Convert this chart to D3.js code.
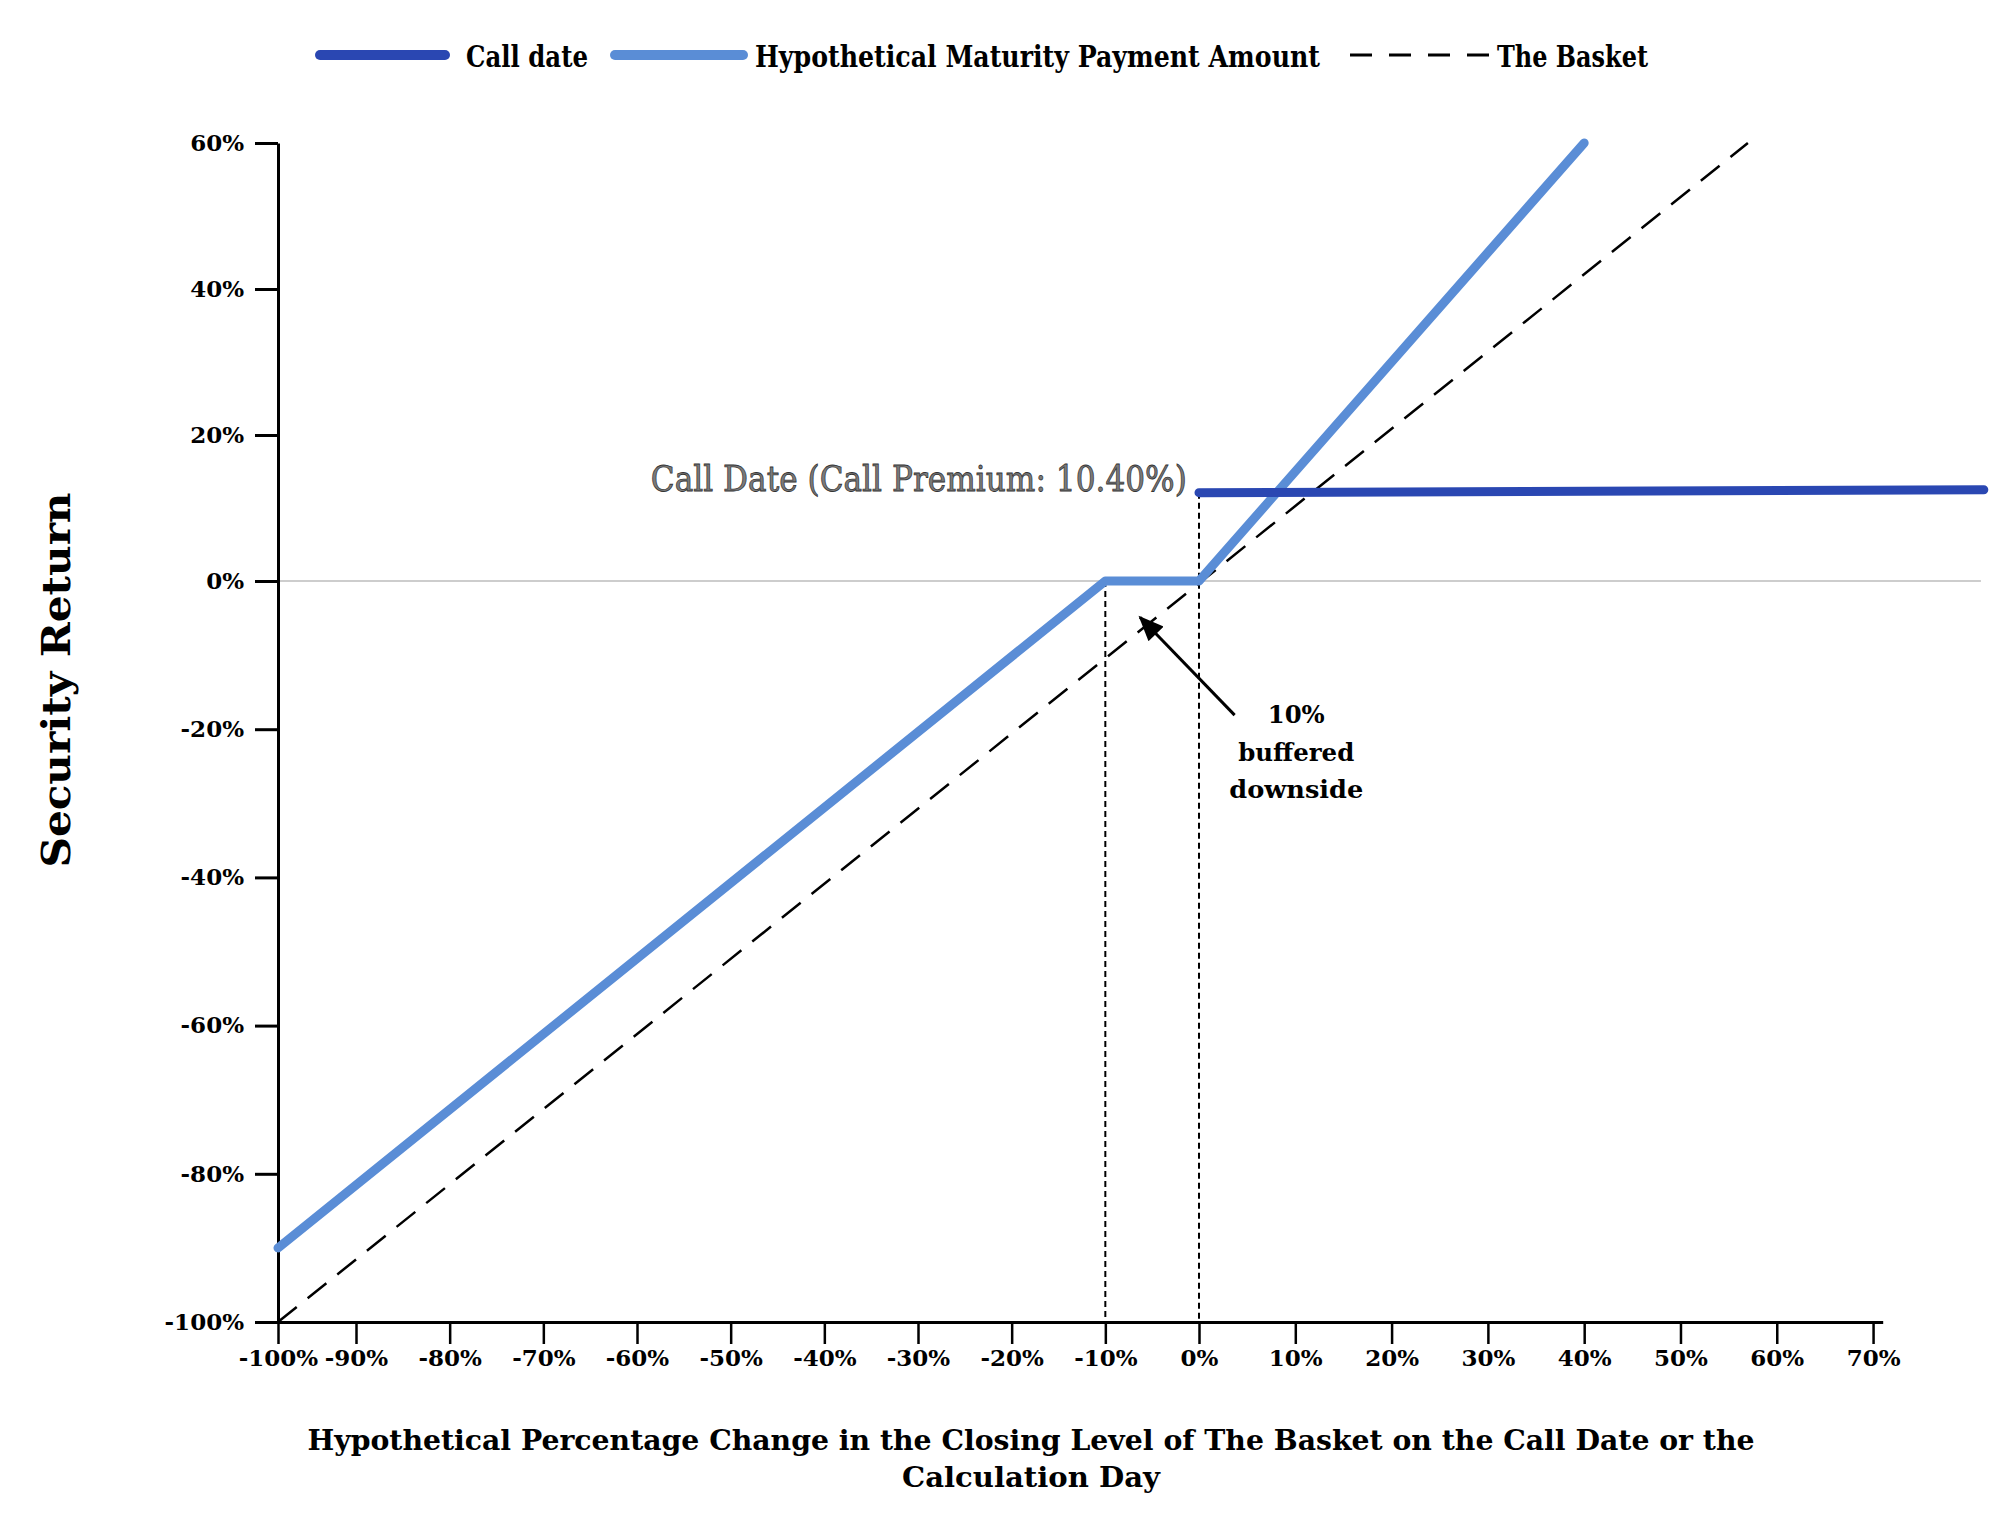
<!DOCTYPE html>
<html>
<head>
<meta charset="utf-8">
<script src="https://cdn.jsdelivr.net/npm/d3@7"></script>
<style>
  body { margin: 0; background: #fff; }
  svg { display: block; }
  text { font-family: "DejaVu Serif", Georgia, serif; }
</style>
</head>
<body>
<div id="chart"></div>
<script>
// values (percent)
var xTicks = [-100, -90, -80, -70, -60, -50, -40, -30, -20, -10, 0, 10, 20, 30, 40, 50, 60, 70];
var yTicks = [-100, -80, -60, -40, -20, 0, 20, 40, 60];

var basket = [[-100, -100], [57, 60]];
var maturity = [[-100, -90], [-10, 0], [0, 0], [40, 60]];
var callDate = [[0, 12.1], [81.5, 12.5]];

var bufferLevel = -10;
var callLevel = 0;
var callLabel = "Call Date (Call Premium: 10.40%)";
var bufferLabel = ["10%", "buffered", "downside"];
var arrowFromTo = [[3.7, -18.1], [-6.3, -4.9]];

var legendLabels = ["Call date", "Hypothetical Maturity Payment Amount", "The Basket"];
var xTitle = ["Hypothetical Percentage Change in the Closing Level of The Basket on the Call Date or the", "Calculation Day"];
var yTitle = "Security Return";

var width = 2015, height = 1516;
var darkBlue = "#2a47b2", lightBlue = "#5a8dd6";

var svg = d3.select("#chart").append("svg")
    .attr("width", width)
    .attr("height", height);

// the source axis is not quite even, so both scales are piecewise
var x = d3.scaleLinear()
    .domain([-100, -90, 0, 71])
    .range([278, 356, 1199, 1882.7]);

var y = d3.scaleLinear()
    .domain([-100, 0, 60])
    .range([1322, 581, 143]);

var pct = function(d) { return d + "%"; };

var line = d3.line()
    .x(function(d) { return x(d[0]); })
    .y(function(d) { return y(d[1]); });

// zero line
svg.append("line")
    .attr("x1", x(-100)).attr("x2", x(81.2))
    .attr("y1", y(0)).attr("y2", y(0))
    .attr("stroke", "#bdbdbd")
    .attr("stroke-width", 1.5);

// dotted guides at the buffer and the call level
svg.append("line")
    .attr("x1", x(bufferLevel)).attr("x2", x(bufferLevel))
    .attr("y1", y(0)).attr("y2", y(-100))
    .attr("stroke", "#000").attr("stroke-width", 2)
    .attr("stroke-dasharray", "6,4");

svg.append("line")
    .attr("x1", x(callLevel)).attr("x2", x(callLevel))
    .attr("y1", y(callDate[0][1])).attr("y2", y(-100))
    .attr("stroke", "#000").attr("stroke-width", 2)
    .attr("stroke-dasharray", "6,4");

// axes
var xAxis = svg.append("g")
    .attr("transform", "translate(0," + y(-100) + ")")
    .call(d3.axisBottom(x).tickValues(xTicks).tickFormat(pct)
        .tickSize(22).tickSizeOuter(0).tickPadding(6));

var yAxis = svg.append("g")
    .attr("transform", "translate(" + x(-100) + ",0)")
    .call(d3.axisLeft(y).tickValues(yTicks).tickFormat(pct)
        .tickSize(23).tickSizeOuter(0).tickPadding(11));

xAxis.select(".domain").attr("stroke-width", 3);
yAxis.select(".domain").attr("stroke-width", 3);
xAxis.selectAll(".tick line").attr("stroke-width", 2.5);
yAxis.selectAll(".tick line").attr("stroke-width", 3);
svg.selectAll(".tick text")
    .attr("font-family", "DejaVu Serif, serif")
    .attr("font-weight", "bold")
    .attr("font-size", 23)
    .attr("fill", "#000");

// series
svg.append("path")
    .datum(basket)
    .attr("d", line)
    .attr("fill", "none")
    .attr("stroke", "#000")
    .attr("stroke-width", 2.5)
    .attr("stroke-dasharray", "24,14");

svg.append("path")
    .datum(maturity)
    .attr("d", line)
    .attr("fill", "none")
    .attr("stroke", lightBlue)
    .attr("stroke-width", 9)
    .attr("stroke-linecap", "round")
    .attr("stroke-linejoin", "round");

svg.append("path")
    .datum(callDate)
    .attr("d", line)
    .attr("fill", "none")
    .attr("stroke", darkBlue)
    .attr("stroke-width", 9)
    .attr("stroke-linecap", "round");

// annotations
svg.append("text")
    .attr("x", x(-1.3))
    .attr("y", y(12.3))
    .attr("text-anchor", "end")
    .attr("font-size", 36)
    .attr("fill", "#7a7a7a")
    .attr("stroke", "#333")
    .attr("stroke-width", 0.8)
    .attr("textLength", 536)
    .attr("lengthAdjust", "spacingAndGlyphs")
    .text(callLabel);

svg.append("defs").append("marker")
    .attr("id", "arrowhead")
    .attr("markerUnits", "userSpaceOnUse")
    .attr("viewBox", "0 0 24 20")
    .attr("refX", 22).attr("refY", 10)
    .attr("markerWidth", 26).attr("markerHeight", 21)
    .attr("orient", "auto")
    .append("path")
    .attr("d", "M0,0L24,10L0,20Z")
    .attr("fill", "#000");

svg.append("line")
    .attr("x1", x(arrowFromTo[0][0])).attr("y1", y(arrowFromTo[0][1]))
    .attr("x2", x(arrowFromTo[1][0])).attr("y2", y(arrowFromTo[1][1]))
    .attr("stroke", "#000")
    .attr("stroke-width", 3)
    .attr("marker-end", "url(#arrowhead)");

var bufferLengths = [57, 116, 134];
svg.selectAll(".buffer-label")
    .data(bufferLabel)
    .enter().append("text")
    .attr("class", "buffer-label")
    .attr("x", x(10.1))
    .attr("y", function(d, i) { return y(-19.2) + i * 37.5; })
    .attr("text-anchor", "middle")
    .attr("font-size", 25)
    .attr("font-weight", "bold")
    .attr("textLength", function(d, i) { return bufferLengths[i]; })
    .attr("lengthAdjust", "spacingAndGlyphs")
    .text(function(d) { return d; });

// axis titles
svg.append("text")
    .attr("transform", "translate(70,680) rotate(-90)")
    .attr("text-anchor", "middle")
    .attr("font-size", 39)
    .attr("font-weight", "bold")
    .attr("textLength", 375)
    .attr("lengthAdjust", "spacingAndGlyphs")
    .text(yTitle);

var xTitleLengths = [1447, 258];
svg.selectAll(".x-title")
    .data(xTitle)
    .enter().append("text")
    .attr("class", "x-title")
    .attr("x", 1031)
    .attr("y", function(d, i) { return 1450 + i * 37; })
    .attr("text-anchor", "middle")
    .attr("font-size", 27)
    .attr("font-weight", "bold")
    .attr("textLength", function(d, i) { return xTitleLengths[i]; })
    .attr("lengthAdjust", "spacingAndGlyphs")
    .text(function(d) { return d; });

// legend
var legendStarts = [315, 610, 1350];
var legendTextLengths = [122, 565, 151];
var legendStyles = [
    { color: darkBlue, width: 10, dash: null, cap: "round", len: 135, gap: 16 },
    { color: lightBlue, width: 10, dash: null, cap: "round", len: 138, gap: 7 },
    { color: "#000", width: 3, dash: "22,17", cap: "butt", len: 140, gap: 7 }
];

var legend = svg.append("g").attr("class", "legend");
legendLabels.forEach(function(label, i) {
    var s = legendStyles[i];
    var x0 = legendStarts[i];
    legend.append("line")
        .attr("x1", x0 + (s.cap == "round" ? s.width / 2 : 0))
        .attr("x2", x0 + s.len - (s.cap == "round" ? s.width / 2 : 0))
        .attr("y1", 55).attr("y2", 55)
        .attr("stroke", s.color)
        .attr("stroke-width", s.width)
        .attr("stroke-linecap", s.cap)
        .attr("stroke-dasharray", s.dash);
    legend.append("text")
        .attr("x", x0 + s.len + s.gap)
        .attr("y", 67)
        .attr("font-size", 29)
        .attr("font-weight", "bold")
        .attr("textLength", legendTextLengths[i])
        .attr("lengthAdjust", "spacingAndGlyphs")
        .text(label);
});
</script>
</body>
</html>
